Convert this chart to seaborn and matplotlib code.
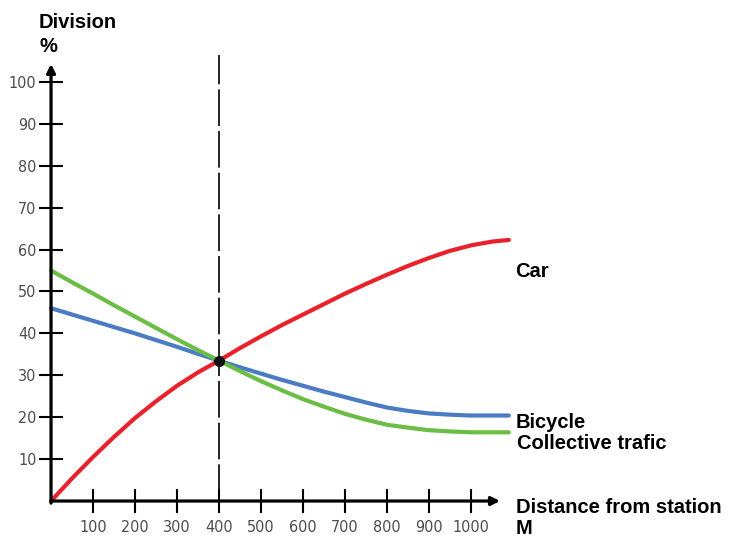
import numpy as np
import pandas as pd
import matplotlib
matplotlib.use("Agg")
import matplotlib.pyplot as plt
import seaborn as sns

# ==========================================
# DATA
# ==========================================
distance = [0, 50, 100, 150, 200, 250, 300, 350, 400, 450, 500, 550,
            600, 650, 700, 750, 800, 850, 900, 950, 1000, 1050, 1090]
car = [0, 5.4, 10.5, 15.3, 19.8, 23.8, 27.5, 30.7, 33.5, 36.5, 39.3, 42.0,
       44.5, 47.0, 49.5, 51.8, 54.0, 56.1, 58.0, 59.7, 61.0, 61.9, 62.3]
bicycle = [46.0, 44.5, 43.0, 41.5, 40.0, 38.4, 36.8, 35.1, 33.5, 31.9, 30.4, 28.9,
           27.5, 26.1, 24.8, 23.5, 22.3, 21.5, 20.9, 20.6, 20.4, 20.4, 20.4]
collective = [55.0, 52.2, 49.5, 46.7, 44.0, 41.3, 38.6, 36.0, 33.5, 31.0, 28.6, 26.4,
              24.3, 22.5, 20.8, 19.4, 18.2, 17.5, 16.9, 16.6, 16.4, 16.4, 16.4]

series_names = ["Car", "Bicycle", "Collective trafic"]
series_colors = {"Car": "#e8212b", "Bicycle": "#4a7bc3", "Collective trafic": "#6cbd45"}

y_ticks = [10, 20, 30, 40, 50, 60, 70, 80, 90, 100]
x_ticks = [100, 200, 300, 400, 500, 600, 700, 800, 900, 1000]

split_distance = 400
split_share = 33.5

df = pd.DataFrame({
    "distance": distance * 3,
    "share": car + bicycle + collective,
    "mode": [n for n in series_names for _ in distance],
})

# ==========================================
# PLOT
# ==========================================
sns.set_style("white")
plt.rcParams["font.family"] = ["Liberation Sans", "DejaVu Sans"]

fig = plt.figure(figsize=(7.31, 5.49), dpi=100)
ax = fig.add_axes([0.0698, 0.0874, 0.6895, 0.8397])

ax.set_xlim(0, 1200)
ax.set_ylim(0, 110)

# vertical dashed divider
ax.plot([split_distance, split_distance], [0, 106.5], color="black", lw=1.2,
        linestyle=(0, (22, 3)), zorder=1, clip_on=False)

sns.lineplot(data=df, x="distance", y="share", hue="mode", palette=series_colors,
             linewidth=3.0, legend=False, ax=ax, zorder=3, clip_on=False)

ax.plot([split_distance], [split_share], "o", color="#111111", markersize=7, zorder=5)

# axes with arrows
for s in ax.spines.values():
    s.set_visible(False)
arrow = dict(arrowstyle="-|>,head_width=0.25,head_length=0.5", lw=2.3, color="black",
             shrinkA=0, shrinkB=0)
ax.annotate("", xy=(1069, 0), xytext=(-1, 0), arrowprops=arrow, annotation_clip=False)
ax.annotate("", xy=(0, 104.3), xytext=(0, -0.5), arrowprops=arrow, annotation_clip=False)

ax.set_xticks(x_ticks)
ax.set_yticks(y_ticks)
ax.tick_params(bottom=True, left=True, direction="inout", length=17, width=1.5,
               color="black", labelcolor="#4d4d4d", labelsize=11.5)
ax.tick_params(axis="x", pad=5)
ax.tick_params(axis="y", pad=2)
for lab in ax.get_xticklabels() + ax.get_yticklabels():
    lab.set_fontfamily("DejaVu Sans")
    lab.set_fontstretch("condensed")
ax.set_xlabel("")
ax.set_ylabel("")

# text labels
bold = dict(fontsize=14.5, fontweight="bold", color="black")
fig.text(39 / 731, 1 - 28 / 549, "Division", ha="left", va="baseline", **bold)
fig.text(39 / 731, 1 - 52 / 549, "%", ha="left", va="baseline", **bold)
fig.text(515 / 731, 1 - 277 / 549, "Car", ha="left", va="baseline", **bold)
fig.text(516 / 731, 1 - 428 / 549, "Bicycle", ha="left", va="baseline", **bold)
fig.text(517 / 731, 1 - 449 / 549, "Collective trafic", ha="left", va="baseline", **bold)
fig.text(516 / 731, 1 - 513 / 549, "Distance from station", ha="left", va="baseline", **bold)
fig.text(516 / 731, 1 - 534 / 549, "M", ha="left", va="baseline", **bold)

fig.savefig("out.png", dpi=100)
